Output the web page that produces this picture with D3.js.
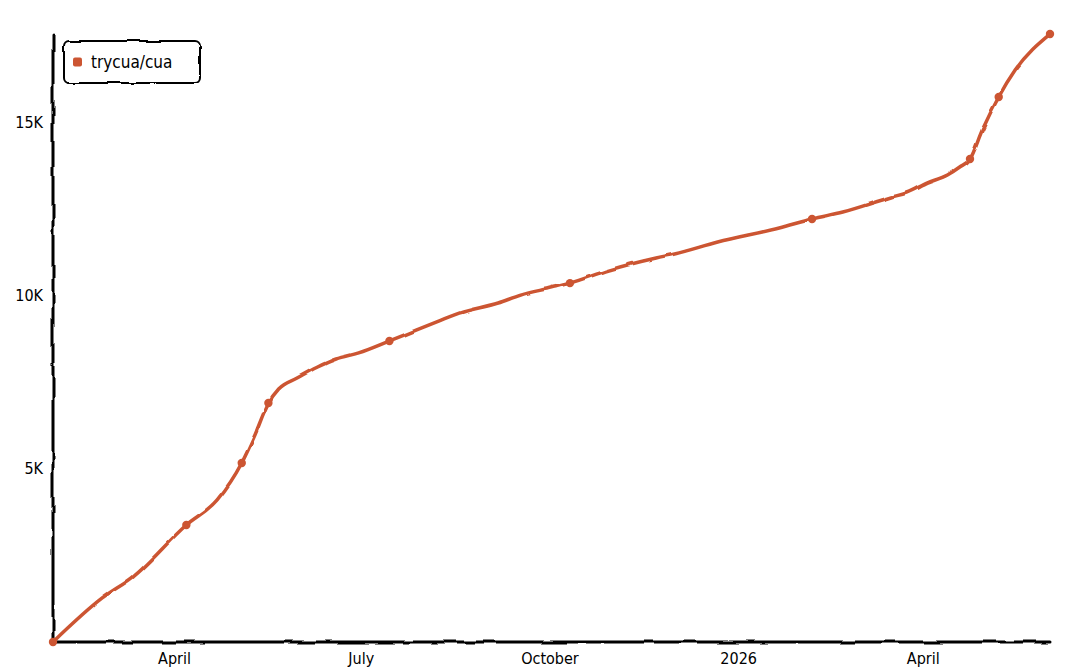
<!DOCTYPE html>
<html>
<head>
<meta charset="utf-8">
<script src="https://cdn.jsdelivr.net/npm/d3@7"></script>
<style>
  html, body { margin: 0; padding: 0; background: #fff; }
  svg { display: block; }
  text { font-family: "DejaVu Sans Condensed", "Liberation Sans Narrow", sans-serif; fill: #000; }
</style>
</head>
<body>
<svg id="chart" width="1080" height="671"></svg>
<script>
// ---- data ----
const title = "Star History";
const seriesName = "trycua/cua";
const dates = [
  "2025-02-01","2025-02-25","2025-03-12","2025-04-07","2025-04-22","2025-05-04",
  "2025-05-10","2025-05-17","2025-05-22","2025-05-31","2025-06-10","2025-06-19",
  "2025-06-30","2025-07-15","2025-07-28","2025-08-08","2025-08-18","2025-09-06",
  "2025-09-17","2025-10-02","2025-10-11","2025-10-30","2025-11-22","2025-12-01",
  "2025-12-22","2026-01-21","2026-02-06","2026-02-21","2026-03-17","2026-03-24",
  "2026-04-03","2026-04-13","2026-04-19","2026-04-24","2026-04-30","2026-05-08",
  "2026-05-16","2026-06-02"
];
const stars = [
  0, 1270, 1875, 3375, 4100, 5165,
  5915, 6895, 7300, 7615, 7935, 8165,
  8340, 8685, 9000, 9260, 9490, 9780,
  10010, 10220, 10355, 10730, 11080, 11195,
  11540, 11945, 12205, 12405, 12840, 12955,
  13240, 13475, 13705, 13935, 14770, 15725,
  16500, 17540
];
const markerIdx = [0, 3, 5, 7, 13, 20, 26, 33, 35, 37];
const yTicks = [5000, 10000, 15000];
const xTicks = ["2025-04-01","2025-07-01","2025-10-01","2026-01-01","2026-04-01"];
const xTickLabels = ["April","July","October","2026","April"];

// ---- setup ----
const parse = d3.timeParse("%Y-%m-%d");
const pts = dates.map((d, i) => ({ date: parse(d), value: stars[i] }));
const color = "#cc5532";

const svg = d3.select("#chart");
const defs = svg.append("defs");
function makeFilter(id, scale) {
  const f = defs.append("filter").attr("id", id).attr("filterUnits", "userSpaceOnUse")
    .attr("x", -10).attr("y", -10).attr("width", 1100).attr("height", 700);
  f.append("feTurbulence").attr("type", "fractalNoise").attr("baseFrequency", 0.05).attr("result", "noise");
  f.append("feDisplacementMap").attr("scale", scale).attr("xChannelSelector", "R").attr("yChannelSelector", "G")
    .attr("in", "SourceGraphic").attr("in2", "noise");
}
makeFilter("xkcdify", 5);
makeFilter("xkcdSoft", 3);

const x = d3.scaleTime()
  .domain([parse("2025-02-01"), parse("2026-06-02")])
  .range([53, 1050]);
const y = d3.scaleLinear().domain([0, 5000]).range([642, 468.7]);

// title (mostly off-canvas in the reference)
svg.append("text").attr("x", 540).attr("y", -4).attr("text-anchor", "middle")
  .style("font-size", "20px").style("font-weight", "bold").text(title);

// axes
const yAxis = d3.axisLeft(y).tickValues(yTicks).tickSize(0).tickPadding(10)
  .tickFormat(d => (d / 1000) + "K");
const gy = svg.append("g").attr("transform", "translate(53,0)").call(yAxis);
gy.select(".domain").remove();
gy.selectAll("text").style("font-size", "16px").style("font-family", "'DejaVu Sans Condensed', sans-serif");

const xAxis = d3.axisBottom(x).tickValues(xTicks.map(parse)).tickSize(0).tickPadding(11)
  .tickFormat((d, i) => xTickLabels[i]);
const gx = svg.append("g").attr("transform", "translate(0,642)").call(xAxis);
gx.select(".domain").remove();
gx.selectAll("text").style("font-size", "16px").style("font-family", "'DejaVu Sans Condensed', sans-serif");

// axis lines (hand-drawn look)
const axesG = svg.append("g").attr("filter", "url(#xkcdify)");
axesG.append("line").attr("x1", 53).attr("x2", 53).attr("y1", 35).attr("y2", 643)
  .attr("stroke", "#000").attr("stroke-width", 3).attr("stroke-linecap", "round");
axesG.append("line").attr("x1", 52).attr("x2", 1050).attr("y1", 642).attr("y2", 642)
  .attr("stroke", "#000").attr("stroke-width", 3).attr("stroke-linecap", "round");

// series line
const line = d3.line().x(d => x(d.date)).y(d => y(d.value)).curve(d3.curveMonotoneX);
const lineG = svg.append("g").attr("filter", "url(#xkcdSoft)");
lineG.append("path").datum(pts).attr("d", line)
  .attr("fill", "none").attr("stroke", color).attr("stroke-width", 3.5)
  .attr("stroke-linecap", "round").attr("stroke-linejoin", "round");

// markers
svg.append("g").selectAll("circle").data(markerIdx.map(i => pts[i])).join("circle")
  .attr("cx", d => x(d.date)).attr("cy", d => y(d.value)).attr("r", 4.2)
  .attr("fill", color);

// legend
const lg = svg.append("g").attr("transform", "translate(64,41)");
lg.append("rect").attr("width", 136).attr("height", 42).attr("rx", 5).attr("ry", 5)
  .attr("fill", "#fff").attr("stroke", "#000").attr("stroke-width", 2)
  .attr("filter", "url(#xkcdify)");
lg.append("rect").attr("x", 9).attr("y", 16.5).attr("width", 9).attr("height", 9).attr("rx", 2)
  .attr("fill", color);
lg.append("text").attr("x", 27).attr("y", 21).attr("dominant-baseline", "central")
  .style("font-size", "17px").text(seriesName);
</script>
</body>
</html>
